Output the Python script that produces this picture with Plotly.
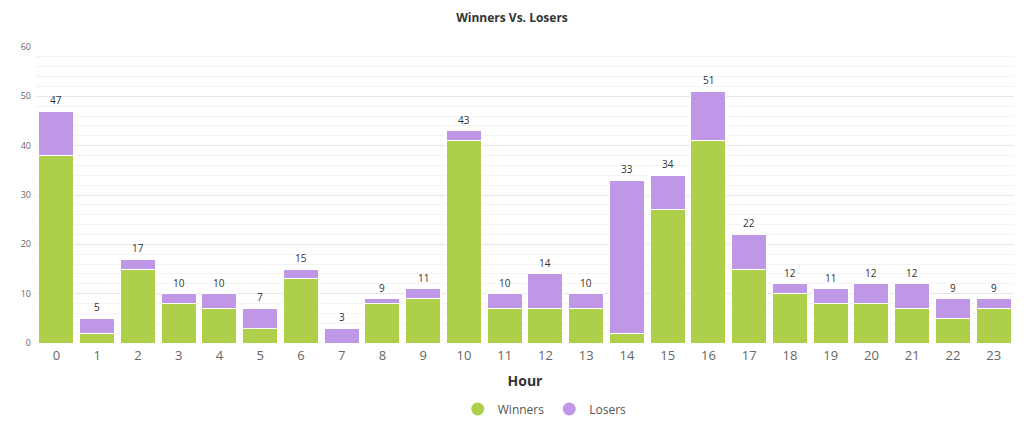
import plotly.graph_objects as go

hours = [str(h) for h in range(24)]
winners = [38, 2, 15, 8, 7, 3, 13, 0, 8, 9, 41, 7, 7, 7, 2, 27, 41, 15, 10, 8, 8, 7, 5, 7]
losers = [9, 3, 2, 2, 3, 4, 2, 3, 1, 2, 2, 3, 7, 3, 31, 7, 10, 7, 2, 3, 4, 5, 4, 2]
totals = [w + l for w, l in zip(winners, losers)]

GREEN = "#aecf4a"
PURPLE = "#c096e6"
FONT = "Open Sans"

fig = go.Figure()
fig.add_trace(go.Bar(x=hours, y=winners, name="Winners", marker=dict(color=GREEN, line=dict(color="white", width=1)), showlegend=False))
fig.add_trace(go.Bar(x=hours, y=losers, name="Losers", marker=dict(color=PURPLE, line=dict(color="white", width=1)), showlegend=False))
fig.add_trace(go.Scatter(x=[None], y=[None], mode="markers", name="Winners",
                         marker=dict(color=GREEN, size=13, symbol="circle")))
fig.add_trace(go.Scatter(x=[None], y=[None], mode="markers", name="Losers",
                         marker=dict(color=PURPLE, size=13, symbol="circle")))

for h, t in zip(hours, totals):
    fig.add_annotation(x=h, y=t, text=str(t), showarrow=False, yanchor="bottom", yshift=2,
                       font=dict(size=10, color="#333", family=FONT))

fig.update_layout(
    barmode="stack",
    bargap=0.14,
    width=1024, height=437,
    margin=dict(l=36, r=10, t=47, b=94, autoexpand=False),
    plot_bgcolor="white", paper_bgcolor="white",
    font=dict(family=FONT, color="#666"),
    title=dict(text="<b>Winners Vs. Losers</b>", x=0.5, xanchor="center", xref="container",
               y=1 - 18 / 437, yanchor="middle", yref="container",
               font=dict(size=12, color="#333", family=FONT)),
    legend=dict(orientation="h", traceorder="normal", xref="container", x=0.532, xanchor="center",
                yref="container", y=1 - 409 / 437, yanchor="middle",
                font=dict(size=12, color="#555", family=FONT), itemwidth=30),
    xaxis=dict(type="category", range=[-0.5, 23.5], tickfont=dict(size=13, color="#666"), showgrid=False,
               title=dict(text="<b>Hour</b>", font=dict(size=14, color="#333"), standoff=13),
               showline=False, ticks="", ticklabelstandoff=3),
    yaxis=dict(range=[0, 60], dtick=10, tickfont=dict(size=9, color="#666"),
               gridcolor="#e6e6e6", gridwidth=1, zeroline=False, ticks="", ticklabelstandoff=4,
               minor=dict(dtick=2, showgrid=True, gridcolor="#f3f3f3", gridwidth=1)),
)
fig.write_html("out.html", config={"displayModeBar": False},
               post_script="document.body.style.margin='0';document.body.style.padding='0';")
